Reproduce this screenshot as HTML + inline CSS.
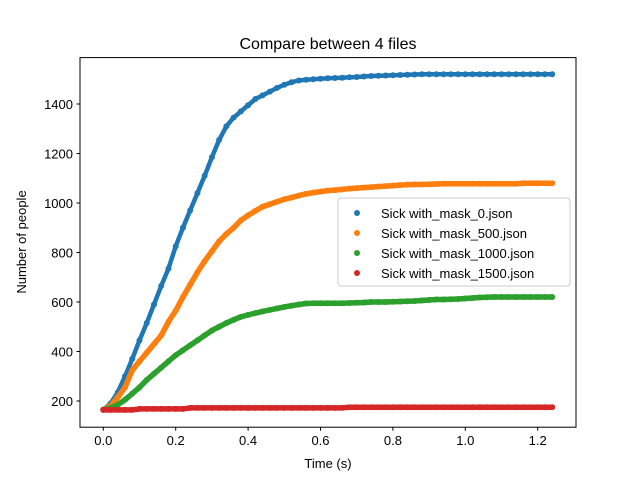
<!DOCTYPE html>
<html><head><meta charset="utf-8"><style>
body{margin:0;background:#fff;}
svg{font-family:"Liberation Sans","DejaVu Sans",sans-serif;}
</style></head><body>
<svg id="chart" width="640" height="480">
<rect x="0" y="0" width="640" height="480" fill="#fff"/>
<text x="328" y="49" text-anchor="middle" font-size="16">Compare between 4 files</text>
<g id="marks"></g>
<g id="axes"></g>
<rect x="80" y="57.6" width="496" height="369.6" fill="none" stroke="#000" stroke-width="1"/>
<text x="328" y="468" text-anchor="middle" font-size="13">Time (s)</text>
<text x="26" y="242" text-anchor="middle" font-size="13" transform="rotate(-90 26 242)">Number of people</text>
<g id="legend"></g>
</svg>
<script>
const times = [0,0.02,0.04,0.06,0.08,0.10,0.12,0.14,0.16,0.18,0.20,0.22,0.24,0.26,0.28,0.30,0.32,0.34,0.36,0.38,0.40,0.42,0.44,0.46,0.48,0.50,0.52,0.54,0.56,0.58,0.60,0.62,0.64,0.66,0.68,0.70,0.72,0.74,0.76,0.78,0.80,0.82,0.84,0.86,0.88,0.90,0.92,0.94,0.96,0.98,1.00,1.02,1.04,1.06,1.08,1.10,1.12,1.14,1.16,1.18,1.20,1.22,1.24];
const seriesNames = ["Sick with_mask_0.json","Sick with_mask_500.json","Sick with_mask_1000.json","Sick with_mask_1500.json"];
const mask0 = [165,190,235,300,370,445,515,590,665,735,825,900,970,1040,1110,1185,1255,1310,1345,1370,1395,1420,1435,1450,1465,1478,1488,1495,1498,1500,1502,1504,1505,1506,1508,1509,1511,1513,1514,1515,1516,1517,1518,1519,1520,1520,1520,1520,1520,1520,1520,1520,1520,1520,1520,1520,1520,1520,1520,1520,1520,1520,1520];
const mask500 = [165,180,215,255,325,360,395,430,465,520,565,620,670,720,765,805,845,875,900,930,950,968,985,995,1005,1015,1022,1030,1037,1042,1046,1050,1052,1055,1058,1060,1062,1064,1066,1068,1070,1072,1074,1075,1075,1076,1077,1078,1078,1078,1078,1078,1078,1078,1078,1078,1078,1078,1080,1080,1080,1080,1080];
const mask1000 = [165,172,185,205,230,255,285,310,335,360,385,405,425,445,465,485,500,515,528,540,548,555,562,568,574,580,585,590,594,595,595,595,595,595,596,597,598,600,600,600,601,602,603,604,606,608,610,610,611,612,614,616,618,619,620,620,620,620,620,620,620,620,620];
const mask1500 = [164,164,164,164,164,168,168,168,168,168,168,168,172,172,172,172,172,172,172,172,172,172,172,172,172,172,172,172,172,172,172,172,172,172,175,175,175,175,175,175,175,175,175,175,175,175,175,175,175,175,175,175,175,175,175,175,175,175,175,175,175,175,175];
const xTicks = [0.0,0.2,0.4,0.6,0.8,1.0,1.2];
const xTickLabels = ["0.0","0.2","0.4","0.6","0.8","1.0","1.2"];
const yTicks = [200,400,600,800,1000,1200,1400];
const yTickLabels = ["200","400","600","800","1000","1200","1400"];

const colors = ["#1f77b4","#ff7f0e","#2ca02c","#d62728"];
const allSeries = [mask0,mask500,mask1000,mask1500];
const NS = "http://www.w3.org/2000/svg";
const xScale = v => 103.3 + v * 362;
const yScale = v => 401 - (v - 200) * 0.2475;

const marks = document.getElementById('marks');
allSeries.forEach((s, si) => {
  const pl = document.createElementNS(NS, 'polyline');
  pl.setAttribute('points', s.map((v, i) => xScale(times[i]) + ',' + yScale(v)).join(' '));
  pl.setAttribute('fill', 'none');
  pl.setAttribute('stroke', colors[si]);
  pl.setAttribute('stroke-width', si === 0 ? 4.5 : 5.5);
  pl.setAttribute('stroke-linecap', 'round');
  pl.setAttribute('stroke-linejoin', 'round');
  
  
  marks.appendChild(pl);
  s.forEach((v, i) => {
    const c = document.createElementNS(NS, 'circle');
    c.setAttribute('cx', xScale(times[i]));
    c.setAttribute('cy', yScale(v));
    c.setAttribute('r', 3);
    c.setAttribute('fill', colors[si]);
    
    
    marks.appendChild(c);
  });
});

const axes = document.getElementById('axes');
xTicks.forEach((t, i) => {
  const x = xScale(t);
  const l = document.createElementNS(NS, 'line');
  l.setAttribute('x1', x); l.setAttribute('x2', x);
  l.setAttribute('y1', 427.2); l.setAttribute('y2', 430.7);
  l.setAttribute('stroke', '#000');
  
  
  axes.appendChild(l);
  const tx = document.createElementNS(NS, 'text');
  tx.setAttribute('x', x); tx.setAttribute('y', 445);
  tx.setAttribute('text-anchor', 'middle'); tx.setAttribute('font-size', '13');
  tx.textContent = xTickLabels[i];
  
  
  axes.appendChild(tx);
});
yTicks.forEach((t, i) => {
  const y = yScale(t);
  const l = document.createElementNS(NS, 'line');
  l.setAttribute('x1', 76.5); l.setAttribute('x2', 80);
  l.setAttribute('y1', y); l.setAttribute('y2', y);
  l.setAttribute('stroke', '#000');
  
  
  axes.appendChild(l);
  const tx = document.createElementNS(NS, 'text');
  tx.setAttribute('x', 73); tx.setAttribute('y', y + 5);
  tx.setAttribute('text-anchor', 'end'); tx.setAttribute('font-size', '13');
  tx.textContent = yTickLabels[i];
  
  
  axes.appendChild(tx);
});

const legend = document.getElementById('legend');
const box = document.createElementNS(NS, 'rect');
box.setAttribute('x', 338); box.setAttribute('y', 198);
box.setAttribute('width', 232); box.setAttribute('height', 88);
box.setAttribute('rx', 3);
box.setAttribute('fill', 'rgba(255,255,255,0.8)'); box.setAttribute('stroke', '#ccc');


legend.appendChild(box);
seriesNames.forEach((n, i) => {
  const y = 213 + i * 20;
  const c = document.createElementNS(NS, 'circle');
  c.setAttribute('cx', 357); c.setAttribute('cy', y); c.setAttribute('r', 3);
  c.setAttribute('fill', colors[i]);
  
  
  legend.appendChild(c);
  const tx = document.createElementNS(NS, 'text');
  tx.setAttribute('x', 381); tx.setAttribute('y', y + 5);
  tx.setAttribute('font-size', '13');
  tx.textContent = n;
  
  
  legend.appendChild(tx);
});
</script>
</body></html>
